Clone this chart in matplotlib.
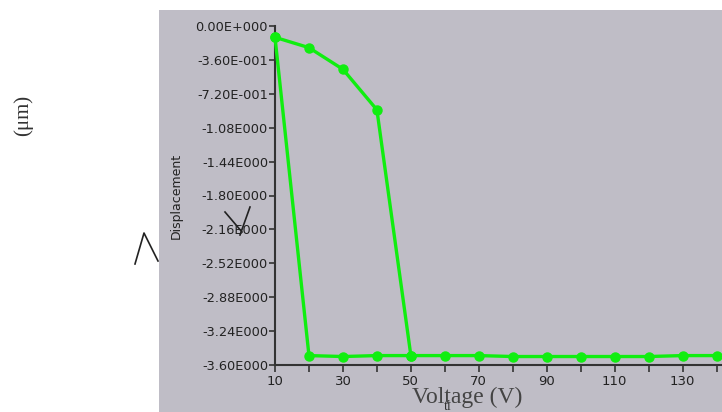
import matplotlib
matplotlib.use('Agg')
import matplotlib.pyplot as plt
from matplotlib.lines import Line2D
from matplotlib.patches import Rectangle

# loading sweep (up) and release sweep (down), displacement in um
v_up = [10, 20, 30, 40, 50, 60, 70, 80, 90, 100, 110, 120, 130, 140]
d_up = [-0.12, -0.23, -0.46, -0.89, -3.50, -3.50, -3.50, -3.51, -3.51, -3.51, -3.51, -3.51, -3.50, -3.50]
v_down = [50, 40, 30, 20, 10]
d_down = [-3.50, -3.50, -3.51, -3.50, -0.12]

y_ticks = [0, -0.36, -0.72, -1.08, -1.44, -1.80, -2.16, -2.52, -2.88, -3.24, -3.60]
y_labels = ['0.00E+000', '-3.60E-001', '-7.20E-001', '-1.08E000', '-1.44E000', '-1.80E000',
            '-2.16E000', '-2.52E000', '-2.88E000', '-3.24E000', '-3.60E000']
x_major = [10, 30, 50, 70, 90, 110, 130]
x_minor = [20, 40, 60, 80, 100, 120, 140]

W, H = 722, 412
fig = plt.figure(figsize=(W / 100, H / 100), dpi=100)
fig.patch.set_facecolor('white')

def fx(px):
    return px / W

def fy(py):
    return 1 - py / H

# grey panel of the screenshot
fig.add_artist(Rectangle((fx(159), 0), 1 - fx(159), fy(10), transform=fig.transFigure,
                         facecolor='#bfbdc6', edgecolor='none', zorder=0))

ax = fig.add_axes([fx(275), fy(365), 1 - fx(275), fy(26) - fy(365)])
ax.set_facecolor('none')
ax.plot(v_up, d_up, color='#10ee10', lw=2.4, marker='o', ms=6.5, zorder=3, clip_on=False)
ax.plot(v_down, d_down, color='#10ee10', lw=2.4, marker='o', ms=6.5, zorder=3, clip_on=False)

ax.set_xlim(10, 141.6)
ax.set_ylim(-3.6, 0)
ax.set_yticks(y_ticks)
ax.set_yticklabels(y_labels)
ax.set_xticks(x_major)
ax.set_xticks(x_minor, minor=True)
ax.tick_params(axis='y', direction='out', length=4, width=1.2, color='#333333', labelsize=9.3,
               pad=1, labelcolor='#222222')
ax.tick_params(axis='x', which='both', direction='out', length=5, width=1.2, color='#333333',
               labelsize=9.5, pad=2, labelcolor='#222222')
for s in ['top', 'right']:
    ax.spines[s].set_visible(False)
for s in ['left', 'bottom']:
    ax.spines[s].set_color('#333333')
    ax.spines[s].set_linewidth(1.5)

fig.text(fx(176), fy(196), 'Displacement', rotation=90, ha='center', va='center',
         fontsize=9, family='DejaVu Sans', color='#222222')
fig.text(fx(23), fy(115), '(\u03bcm)', rotation=90, ha='center', va='center',
         fontsize=15, family='Liberation Serif', color='#333333')
fig.text(fx(467), fy(397), 'Voltage (V)', ha='center', va='center',
         fontsize=17, family='Liberation Serif', color='#444444')
fig.text(fx(448), fy(406), 'ti', ha='center', va='center',
         fontsize=10, family='Liberation Serif', color='#333333')

# stray pen strokes in the screenshot
strokes = [([135, 144, 158], [264, 233, 261]),
           ([225, 242], [212, 232]),
           ([250, 240], [207, 235])]
for xs, ys in strokes:
    fig.add_artist(Line2D([fx(p) for p in xs], [fy(p) for p in ys], transform=fig.transFigure,
                          color='#222222', lw=1.2))

fig.savefig('out.png', dpi=100)
